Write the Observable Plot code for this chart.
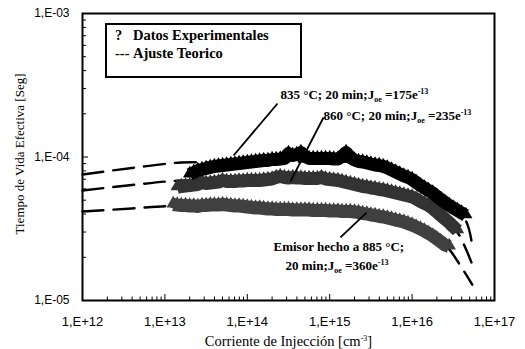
<!DOCTYPE html>
<html><head><meta charset="utf-8">
<script src="https://cdn.jsdelivr.net/npm/d3@7"></script>
<script src="https://cdn.jsdelivr.net/npm/@observablehq/plot@0.6"></script>
<style>
html,body{margin:0;padding:0;background:#fff;}
#wrap{position:relative;width:525px;height:349px;}
#legend{position:absolute;left:105px;top:23px;width:193px;height:51px;border:2px solid #000;background:#fff;font:bold 14.5px "Liberation Serif",serif;color:#000;}
#legend span{position:absolute;white-space:nowrap;line-height:15px;}
</style></head><body>
<div id="wrap">
<div id="chart"></div>
<div id="legend">
<span style="left:8px;top:3px">?</span><span style="left:26px;top:3px">Datos Experimentales</span>
<span style="left:8px;top:21px">---</span><span style="left:26px;top:21px">Ajuste Teorico</span>
</div>
</div>
<script>
// Injection level (cm^-3) at which the measured points are read
const inj = [1.26e13,1.41e13,1.58e13,1.78e13,2.00e13,2.24e13,2.51e13,2.82e13,3.16e13,3.55e13,3.98e13,4.47e13,5.01e13,5.62e13,6.31e13,7.08e13,7.94e13,8.91e13,
  1.00e14,1.12e14,1.26e14,1.41e14,1.58e14,1.78e14,2.00e14,2.24e14,2.51e14,2.82e14,3.16e14,3.55e14,3.98e14,4.47e14,5.01e14,5.62e14,6.31e14,7.08e14,7.94e14,8.91e14,
  1.00e15,1.12e15,1.26e15,1.41e15,1.58e15,1.78e15,2.00e15,2.24e15,2.51e15,2.82e15,3.16e15,3.55e15,3.98e15,4.47e15,5.01e15,5.62e15,6.31e15,7.08e15,7.94e15,8.91e15,
  1.00e16,1.12e16,1.26e16,1.41e16,1.58e16,1.78e16,2.00e16,2.24e16,2.51e16,2.82e16,3.16e16,3.55e16,3.98e16,4.47e16];

// Effective lifetime (s), 835 °C
const tau835 = [null,null,null,null,
  7.31e-5,7.55e-5,7.80e-5,7.92e-5,8.05e-5,8.18e-5,8.32e-5,8.38e-5,8.45e-5,8.52e-5,8.59e-5,8.66e-5,8.72e-5,8.80e-5,
  8.87e-5,8.94e-5,9.01e-5,9.08e-5,9.16e-5,9.16e-5,9.30e-5,9.30e-5,9.38e-5,9.45e-5,1.024e-4,9.92e-5,1.008e-4,1.041e-4,9.76e-5,9.45e-5,9.45e-5,9.45e-5,9.45e-5,9.45e-5,
  9.45e-5,9.38e-5,9.38e-5,9.76e-5,1.041e-4,9.61e-5,9.23e-5,9.01e-5,8.94e-5,8.80e-5,8.66e-5,8.52e-5,8.45e-5,8.32e-5,8.12e-5,7.86e-5,7.61e-5,7.37e-5,7.14e-5,6.97e-5,
  6.75e-5,6.43e-5,6.13e-5,5.89e-5,5.66e-5,5.43e-5,5.14e-5,4.90e-5,4.67e-5,4.45e-5,4.27e-5,4.10e-5,3.94e-5,3.79e-5];

// 860 °C
const tau860 = [null,
  5.94e-5,6.03e-5,6.08e-5,6.13e-5,6.18e-5,6.23e-5,6.43e-5,6.33e-5,6.38e-5,6.43e-5,6.48e-5,6.64e-5,6.54e-5,6.54e-5,6.54e-5,6.59e-5,6.59e-5,
  6.64e-5,6.64e-5,6.64e-5,6.64e-5,6.70e-5,6.75e-5,6.81e-5,6.97e-5,7.08e-5,6.97e-5,6.91e-5,6.97e-5,6.91e-5,6.91e-5,6.86e-5,6.86e-5,6.86e-5,6.86e-5,6.97e-5,6.81e-5,
  6.75e-5,6.70e-5,6.64e-5,6.54e-5,6.43e-5,6.33e-5,6.23e-5,6.13e-5,6.03e-5,5.98e-5,5.89e-5,5.84e-5,5.75e-5,5.70e-5,5.61e-5,5.52e-5,5.43e-5,5.35e-5,5.26e-5,5.18e-5,
  5.10e-5,4.94e-5,4.74e-5,4.59e-5,4.45e-5,4.24e-5,4.01e-5,3.79e-5,3.58e-5,3.39e-5,3.17e-5,2.98e-5,null,null];

// 885 °C
const tau885 = [
  4.52e-5,4.48e-5,4.45e-5,4.45e-5,4.41e-5,4.41e-5,4.38e-5,4.45e-5,4.45e-5,4.48e-5,4.48e-5,4.48e-5,4.52e-5,4.48e-5,4.45e-5,4.41e-5,4.41e-5,4.38e-5,
  4.34e-5,4.31e-5,4.27e-5,4.27e-5,4.24e-5,4.20e-5,4.20e-5,4.17e-5,4.17e-5,4.17e-5,4.17e-5,4.14e-5,4.14e-5,4.14e-5,4.14e-5,4.14e-5,4.10e-5,4.10e-5,4.10e-5,4.10e-5,
  4.07e-5,4.07e-5,4.07e-5,4.04e-5,4.04e-5,4.04e-5,4.01e-5,3.97e-5,3.91e-5,3.88e-5,3.82e-5,3.79e-5,3.73e-5,3.70e-5,3.64e-5,3.58e-5,3.52e-5,3.47e-5,3.41e-5,3.33e-5,
  3.25e-5,3.15e-5,3.05e-5,2.95e-5,2.84e-5,2.73e-5,2.60e-5,2.48e-5,2.36e-5,2.30e-5,null,null,null,null];

// Theoretical fits (dashed)
const fitX835 = [1e12,3.98e12,1.58e13,3.98e13,3.16e14,2.00e15,6.31e15,1.58e16,3.16e16,4.47e16,5.25e16];
const fitY835 = [7.55e-5,8.38e-5,9.16e-5,9.16e-5,9.30e-5,9.16e-5,8.05e-5,6.03e-5,4.45e-5,3.61e-5,2.62e-5];
const fitX860 = [1e12,3.98e12,1.58e13,1e14,6.31e14,2.51e15,1e16,2.00e16,3.55e16,4.47e16,5.25e16];
const fitY860 = [5.84e-5,6.38e-5,6.86e-5,6.86e-5,6.97e-5,6.13e-5,5.14e-5,4.10e-5,2.98e-5,2.30e-5,1.84e-5];
const fitX885 = [1e12,3.98e12,1.26e13,1e14,1e15,3.98e15,1e16,2.00e16,2.82e16,3.98e16,5.37e16];
const fitY885 = [4.17e-5,4.38e-5,4.56e-5,4.45e-5,4.24e-5,3.85e-5,3.33e-5,2.70e-5,2.27e-5,1.70e-5,1.29e-5];

// Tick values
const xTicks = [1e12,1e13,1e14,1e15,1e16,1e17];
const yTicks = [1e-5,1e-4,1e-3];

// Annotations (text anchor in data units) and pointer lines
const noteText = ["835 °C; 20 min;J_{oe} =175e^{-13}", "860 °C; 20 min;J_{oe} =235e^{-13}", "Emisor hecho a 885 °C;", "20 min;J_{oe} =360e^{-13}"];
const noteX = [2.53e14, 8.41e14, 2.08e14, 2.91e14];
const noteY = [2.73e-4, 1.95e-4, 2.38e-5, 1.75e-5];
const ptrX1 = [6.81e13, 3.34e14, 1.35e15];
const ptrY1 = [1.024e-4, 6.75e-5, 2.75e-5];
const ptrX2 = [2.33e14, 8.41e14, 2.80e15];
const ptrY2 = [2.36e-4, 1.885e-4, 4.10e-5];

const colors = {"835": "#000000", "860": "#333333", "885": "#404040"};

const pts = (tau) => inj.map((x, i) => ({x, y: tau[i]})).filter(d => d.y != null);
const fit = (xs, ys) => xs.map((x, i) => ({x, y: ys[i]}));
const minor = (lo, hi) => { const t = []; for (let e = lo; e < hi; e++) for (let m = 2; m <= 9; m++) t.push(m * 10 ** e); return t; };
const xMinor = minor(12, 17);
const yMinor = minor(-5, -3).map(v => +v.toPrecision(3));

const fmtX = d => "1,E+" + Math.round(Math.log10(d));
const fmtY = d => "1,E-" + String(-Math.round(Math.log10(d))).padStart(2, "0");

const W = 525, H = 349, ML = 82, MR = 31, MT = 13, MB = 49;
const FW = W - ML - MR, FH = H - MT - MB;

const series = [["885", tau885], ["860", tau860], ["835", tau835]];
const fits = [[fitX835, fitY835], [fitX860, fitY860], [fitX885, fitY885]];

const marks = [];
// inward ticks
marks.push(Plot.ruleX(xMinor, {x: d => d, insetTop: FH - 3.5, stroke: "#000", strokeWidth: 1}));
marks.push(Plot.ruleX(xTicks, {x: d => d, insetTop: FH - 6, stroke: "#000", strokeWidth: 1}));
marks.push(Plot.ruleY(yMinor, {y: d => d, insetRight: FW - 4, stroke: "#000", strokeWidth: 1}));
marks.push(Plot.ruleY(yTicks, {y: d => d, insetRight: FW - 6, stroke: "#000", strokeWidth: 1}));
// labels
marks.push(Plot.axisX(xTicks, {tickSize: 0, tickPadding: 16, tickFormat: fmtX, label: null, fontSize: 13, fontFamily: "Liberation Sans", letterSpacing: "0.5px"}));
marks.push(Plot.axisY(yTicks, {tickSize: 0, tickPadding: 13, tickFormat: fmtY, label: null, fontSize: 12, fontFamily: "Liberation Sans"}));
// fits
for (const [xs, ys] of fits) {
  marks.push(Plot.line(fit(xs, ys), {x: "x", y: "y", stroke: "#000", strokeWidth: 2.4, strokeDasharray: "21,10", curve: "catmull-rom"}));
}
// data
for (const [k, tau] of series) {
  const d = pts(tau);
  marks.push(Plot.line(d, {x: "x", y: "y", dy: -2, stroke: colors[k], strokeWidth: 13, strokeLinecap: "butt", strokeLinejoin: "round"}));
  marks.push(Plot.dot(d, {x: "x", y: "y", dy: -3, symbol: "triangle", r: 5, fill: colors[k], stroke: null}));
}
// pointers and notes
marks.push(Plot.link(ptrX1.map((x, i) => i), {x1: i => ptrX1[i], y1: i => ptrY1[i], x2: i => ptrX2[i], y2: i => ptrY2[i], stroke: "#000", strokeWidth: 1.8}));
marks.push(Plot.text(noteText.map((t, i) => i), {x: i => noteX[i], y: i => noteY[i], text: i => noteText[i], textAnchor: "start", fontFamily: "Liberation Serif", fontWeight: "bold", fontSize: 13, fill: "#000"}));
// axis titles
marks.push(Plot.text(["Corriente de Injección [cm^{-3}]"], {frameAnchor: "bottom", dy: 41, textAnchor: "middle", lineAnchor: "middle", fontFamily: "Liberation Serif", fontSize: 14.5, fill: "#000"}));
marks.push(Plot.text(["Tiempo de Vida Efectiva [Seg]"], {frameAnchor: "left", dx: -63, dy: -3, rotate: -90, textAnchor: "middle", lineAnchor: "middle", fontFamily: "Liberation Serif", fontSize: 13, fill: "#000"}));
marks.push(Plot.frame({stroke: "#000", strokeWidth: 2}));

const chart = Plot.plot({
  width: W, height: H,
  marginLeft: ML, marginRight: MR, marginTop: MT, marginBottom: MB,
  x: {type: "log", domain: [1e12, 1e17]},
  y: {type: "log", domain: [1e-5, 1e-3]},
  style: {background: "#fff", color: "#000", fontFamily: "Liberation Sans", fontSize: "12px"},
  marks
});

function richify(el) {
  const s = el.textContent;
  if (!/[_^]\{/.test(s)) return;
  el.textContent = "";
  let shift = 0;
  for (const p of s.split(/([_^]\{[^}]*\})/)) {
    if (!p) continue;
    const t = document.createElementNS("http://www.w3.org/2000/svg", "tspan");
    let target = 0, txt = p;
    if (p.startsWith("_{")) { target = 3; txt = p.slice(2, -1); t.setAttribute("font-size", "8"); }
    else if (p.startsWith("^{")) { target = -5; txt = p.slice(2, -1); t.setAttribute("font-size", "8"); }
    if (target - shift !== 0) t.setAttribute("dy", target - shift);
    shift = target;
    t.textContent = txt;
    el.appendChild(t);
  }
}
chart.querySelectorAll("text").forEach(richify);
document.getElementById("chart").appendChild(chart);
</script>
</body></html>
